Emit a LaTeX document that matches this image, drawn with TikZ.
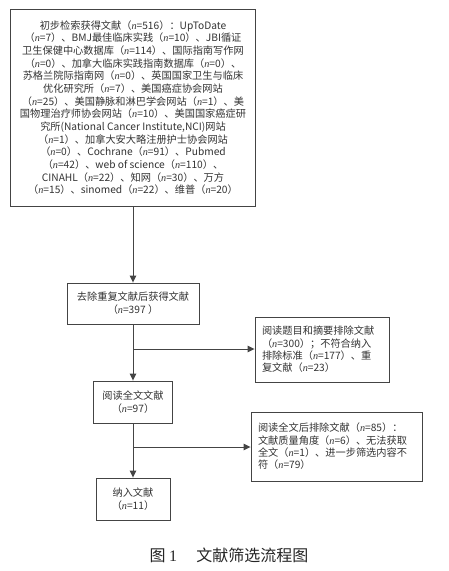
\documentclass[tikz,border=0pt]{standalone}
\usepackage{fontspec}
\setmainfont{Noto Sans CJK SC}
\newfontfamily\serifit{Liberation Serif}[ItalicFont=* Italic]
\newfontfamily\capfont{Liberation Serif}
\newcommand{\nv}{{\serifit\itshape n}}
\newcommand{\tightlines}{\lineskiplimit=-100pt\relax\lineskip=0pt\relax}
\usetikzlibrary{arrows.meta}
\definecolor{lc}{HTML}{444444}
\definecolor{tc}{HTML}{333333}
\tikzset{
  boxc/.style={draw=lc, line width=0.9pt, inner sep=0pt, align=center, text=tc,
    font=\fontsize{10.2}{12.67}\selectfont\tightlines},
  boxl/.style={draw=lc, line width=0.9pt, inner sep=0pt, align=left, text=tc,
    font=\fontsize{10.2}{12.4}\selectfont\tightlines},
  arr/.style={draw=lc, line width=0.9pt, -{Triangle[length=7pt,width=6.5pt]}},
}
\begin{document}
\begin{tikzpicture}[x=1pt,y=-1pt]
\useasboundingbox[fill=white] (0,0) rectangle (448,571);
\node[boxc, minimum width=245pt, minimum height=197pt] (b1) at (133,107.5) {%
初步检索获得文献（\nv=516）：UpToDate\\
（\nv=7）、BMJ最佳临床实践（\nv=10）、JBI循证\\
卫生保健中心数据库（\nv=114）、国际指南写作网\\
（\nv=0）、加拿大临床实践指南数据库（\nv=0）、\\
苏格兰院际指南网（\nv=0）、英国国家卫生与临床\\
优化研究所（\nv=7）、美国癌症协会网站\\
（\nv=25）、美国静脉和淋巴学会网站（\nv=1）、美\\
国物理治疗师协会网站（\nv=10）、美国国家癌症研\\
究所(National Cancer Institute,NCI)网站\\
（\nv=1）、加拿大安大略注册护士协会网站\\
（\nv=0）、Cochrane（\nv=91）、Pubmed\\
（\nv=42）、web of science（\nv=110）、\\
CINAHL（\nv=22）、知网（\nv=30）、万方\\
（\nv=15）、sinomed（\nv=22）、维普（\nv=20）};
\node[boxc, minimum width=132pt, minimum height=41pt] (b2) at (133,303.5) {%
去除重复文献后获得文献\\（\nv=397 ）};
\node[boxl, minimum width=134pt, minimum height=65pt, text width=120pt, inner xsep=7pt] (b3) at (322,349.5) {%
阅读题目和摘要排除文献\\（\nv=300）；不符合纳入\\排除标准（\nv=177）、重\\复文献（\nv=23）};
\node[boxc, minimum width=79pt, minimum height=42pt] (b4) at (133,402) {%
阅读全文文献\\（\nv=97）};
\node[boxl, minimum width=171pt, minimum height=69pt, text width=157pt, inner xsep=7pt] (b5) at (336.5,446.5) {%
阅读全文后排除文献（\nv=85）：\\文献质量角度（\nv=6）、无法获取\\全文（\nv=1）、进一步筛选内容不\\符（\nv=79）};
\node[boxc, minimum width=74pt, minimum height=42pt] (b6) at (133,499) {%
纳入文献\\（\nv=11）};
\coordinate (j1) at (133,349);
\coordinate (j2) at (133,447);
\draw[arr] (b1.south) -- (b2.north);
\draw[arr] (b2.south) -- (b4.north);
\draw[arr] (j1) -- (j1 -| b3.west);
\draw[arr] (b4.south) -- (b6.north);
\draw[arr] (j2) -- (j2 -| b5.west);
\node[font=\fontsize{16}{18}\selectfont, text=black!85] (cap) at (229,555) {图 {\capfont 1}\hspace{1.2em}文献筛选流程图};
\end{tikzpicture}
\end{document}
